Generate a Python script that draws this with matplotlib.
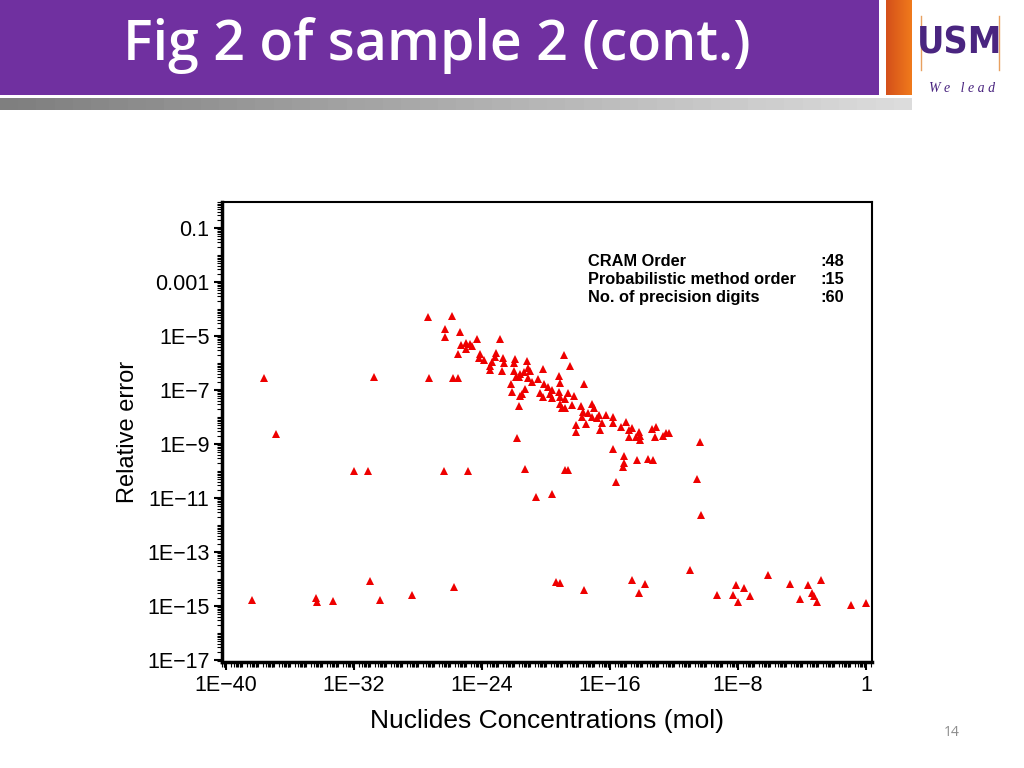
import numpy as np
import matplotlib
matplotlib.use("Agg")
import matplotlib.pyplot as plt
from matplotlib.patches import Rectangle
from matplotlib.ticker import FixedLocator, FixedFormatter
from matplotlib.colors import LinearSegmentedColormap

# exponents: concentration (mol) and relative error
conc_exp = [
    -38.4, -34.4, -34.3, -33.3, -31.0, -30.4, -28.4, -25.75, -19.4, -19.1,
    -17.6, -14.6, -13.8, -14.2, -11.0, -9.3, -8.3, -8.1, -8.0, -7.6,
    -7.25, -6.1, -4.75, -4.1, -3.6, -3.4, -3.25, -3.05, -2.8, -0.95, 0.0,
    -37.6, -36.9, -32.0, -31.1, -30.75, -27.3, -26.4, -24.9, -25.8, -25.5,
    -27.4, -25.9, -26.3, -25.4, -26.3, -25.3, -25.0, -24.75, -24.6, -25.0,
    -25.5, -24.3, -22.9, -24.1, -24.2, -23.9, -23.1, -23.2, -22.7, -23.4,
    -22.6, -23.5, -23.5, -22.75, -21.95, -22.0, -21.2, -18.9, -18.5, -20.2,
    -21.1, -21.0, -21.4, -22.0, -21.6, -21.9, -21.7, -21.1, -20.5, -20.9,
    -19.2, -19.1, -17.6, -22.2, -20.1, -19.9, -21.3, -22.1, -21.5, -21.6,
    -20.4, -20.2, -19.75, -19.6, -19.2, -19.1, -19.6, -18.6, -18.25, -18.8,
    -19.1, -19.0, -18.8, -18.4, -21.7, -17.8, -17.1, -17.0, -17.7, -17.4,
    -17.75, -17.1, -16.8, -16.7, -16.25, -16.5, -15.8, -15.8, -15.3, -15.0,
    -14.6, -14.8, -14.2, -14.1, -14.4, -14.8, -13.4, -13.1, -14.1, -13.2,
    -12.7, -12.5, -12.3, -18.1, -18.1, -17.5, -16.6, -10.4, -21.8, -15.8,
    -15.1, -15.1, -15.2, -14.3, -13.6, -13.3, -15.6, -10.55, -10.3, -21.3,
    -18.8, -18.6, -20.6, -19.6,
]
err_exp = [
    -14.78, -14.70, -14.83, -14.80, -14.06, -14.76, -14.59, -14.30, -14.11, -14.15,
    -14.41, -14.04, -14.19, -14.52, -13.67, -14.59, -14.59, -14.22, -14.85, -14.33,
    -14.63, -13.85, -14.19, -14.74, -14.22, -14.52, -14.63, -14.85, -14.04, -14.96, -14.89,
    -6.54, -8.63, -9.99, -9.99, -6.52, -6.54, -9.99, -9.99, -6.54, -6.54,
    -4.29, -4.26, -4.74, -4.85, -5.04, -5.33, -5.25, -5.30, -5.37, -5.48,
    -5.67, -5.11, -5.11, -5.67, -5.80, -5.89, -5.63, -5.78, -5.81, -5.96,
    -5.99, -6.10, -6.26, -6.30, -5.85, -5.99, -5.91, -5.70, -6.10, -6.22,
    -6.19, -6.28, -6.33, -6.28, -6.41, -6.52, -6.52, -6.54, -6.59, -6.69,
    -6.48, -6.74, -6.78, -6.78, -6.78, -6.89, -6.96, -7.06, -7.15, -7.22,
    -7.11, -7.26, -7.15, -7.00, -7.06, -7.25, -7.29, -7.10, -7.22, -7.33,
    -7.52, -7.67, -7.67, -7.56, -7.59, -7.59, -7.52, -7.67, -7.81, -7.85,
    -7.99, -7.99, -8.04, -7.93, -7.93, -8.21, -8.00, -8.21, -8.37, -8.19,
    -8.41, -8.48, -8.54, -8.70, -8.74, -8.74, -8.43, -8.37, -8.85, -8.74,
    -8.70, -8.58, -8.59, -8.30, -8.54, -8.26, -8.48, -8.91, -8.77, -9.19,
    -9.44, -9.70, -9.84, -9.59, -9.56, -9.59, -10.40, -10.30, -11.63, -9.93,
    -9.96, -9.96, -10.96, -10.85,
]

x_tick_exp = [-40, -32, -24, -16, -8, 0]
x_tick_labels = ["1E\u221240", "1E\u221232", "1E\u221224", "1E\u221216", "1E\u22128", "1"]
y_tick_exp = [-1, -3, -5, -7, -9, -11, -13, -15, -17]
y_tick_labels = ["0.1", "0.001", "1E\u22125", "1E\u22127", "1E\u22129",
                 "1E\u221211", "1E\u221213", "1E\u221215", "1E\u221217"]

info_names = ["CRAM Order", "Probabilistic method order", "No. of precision digits"]
info_values = [":48", ":15", ":60"]

title = "Fig 2 of sample 2 (cont.)"
page_no = "14"

W, H = 1024, 768
fig = plt.figure(figsize=(W / 100, H / 100), dpi=100)

# slide decoration drawn in pixel coordinates
bg = fig.add_axes([0, 0, 1, 1], zorder=0)
bg.axis("off")

bg.add_patch(Rectangle((0, 0), 879, 95, color="#7030a0", lw=0))
bg.text(123, 46, title, color="white", fontsize=40, fontweight="semibold",
        family=["Open Sans", "DejaVu Sans"], va="center", ha="left")

# orange side bar
grad = np.linspace(0, 1, 50).reshape(1, -1)
cm_or = LinearSegmentedColormap.from_list("or", ["#d4501a", "#f07a1c"])
bg.imshow(grad, cmap=cm_or, extent=(886, 912, 95, 0), aspect="auto")

# grey gradient bar
cm_gr = LinearSegmentedColormap.from_list("gr", ["#7f7f7f", "#dcdcdc"])
bg.imshow(grad, cmap=cm_gr, extent=(0, 912, 110, 98), aspect="auto")

# logo
bg.text(960, 44, "USM", color="#4a2580", fontsize=27, fontweight="bold",
        fontstretch="condensed", family=["DejaVu Sans"], ha="center", va="center")
for lx in [921, 999]:
    bg.plot([lx, lx], [16, 70], color="#e8a060", lw=1)
bg.text(962, 88, "W e   l e a d", color="#4a2580", fontsize=10, style="italic",
        family=["Liberation Serif", "DejaVu Serif"], ha="center", va="center")

bg.text(952, 733, page_no, color="#8c8c8c", fontsize=10,
        family=["Open Sans", "DejaVu Sans"], ha="center", va="center")
bg.set_xlim(0, W)
bg.set_ylim(H, 0)

# the chart itself
ax = fig.add_axes([0.2168, 0.138, 0.6348, 0.599], zorder=2)
x = 10.0 ** np.array(conc_exp)
y = 10.0 ** np.array(err_exp)
ax.plot(x, y, linestyle="none", marker="^", color="#ee0000", markersize=6,
        markeredgewidth=0, clip_on=False)

ax.set_xscale("log")
ax.set_yscale("log")
ax.set_xlim(10 ** -40.25, 10 ** 0.375)
ax.set_ylim(10 ** -17.07, 10 ** -0.04)

ax.xaxis.set_major_locator(FixedLocator([10.0 ** e for e in x_tick_exp]))
ax.xaxis.set_major_formatter(FixedFormatter(x_tick_labels))
ax.yaxis.set_major_locator(FixedLocator([10.0 ** e for e in y_tick_exp]))
ax.yaxis.set_major_formatter(FixedFormatter(y_tick_labels))

xminor = [s * 10.0 ** d for d in range(-41, 1) for s in range(1, 10)]
yminor = [s * 10.0 ** d for d in range(-18, 0) for s in range(1, 10)]
ax.xaxis.set_minor_locator(FixedLocator(xminor))
ax.yaxis.set_minor_locator(FixedLocator(yminor))
ax.xaxis.set_minor_formatter(FixedFormatter([]))
ax.yaxis.set_minor_formatter(FixedFormatter([]))

tick_font = ["Liberation Sans", "DejaVu Sans"]
ax.tick_params(which="major", direction="out", length=6, width=1.5,
               labelsize=15.5, pad=3)
ax.tick_params(which="minor", direction="out", length=3.5, width=0.8)
ax.tick_params(top=False, right=False)
for lab in ax.get_xticklabels() + ax.get_yticklabels():
    lab.set_family(tick_font)

for sp in ax.spines.values():
    sp.set_linewidth(1.5)
ax.spines["left"].set_linewidth(2.5)
ax.spines["bottom"].set_linewidth(2.5)

ax.set_xlabel("Nuclides Concentrations (mol)", fontsize=19, family=tick_font,
              labelpad=10)
ax.set_ylabel("Relative error", fontsize=17, family=tick_font, labelpad=6)

for i, (name, val) in enumerate(zip(info_names, info_values)):
    ax.text(0.563, 0.871 - i * 0.039, name, transform=ax.transAxes, fontsize=11.8,
            fontweight="bold", family=tick_font, va="center", ha="left")
    ax.text(0.921, 0.871 - i * 0.039, val, transform=ax.transAxes, fontsize=11.8,
            fontweight="bold", family=tick_font, va="center", ha="left")

fig.savefig("out.png", dpi=100)
